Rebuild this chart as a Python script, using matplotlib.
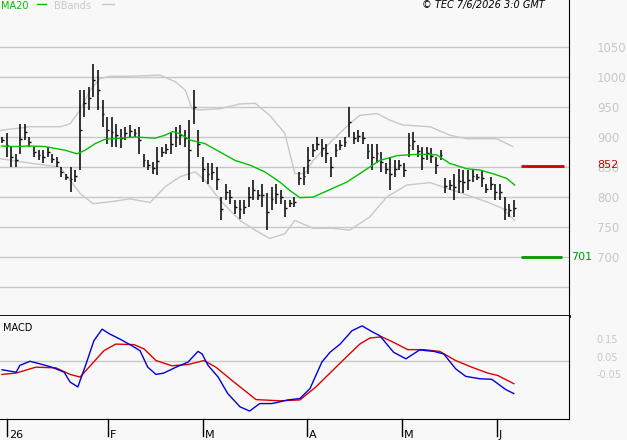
import numpy as np
import matplotlib
matplotlib.use("Agg")
import matplotlib.pyplot as plt

# daily bars (high, low)
highs = [900, 906, 884, 872, 922, 922, 900, 884, 878, 878, 884, 872, 867, 850, 839, 850, 845,
         978, 978, 984, 1022, 1011, 961, 934, 934, 922, 914, 917, 920, 914, 917, 872, 861, 858,
         884, 884, 889, 906, 917, 920, 911, 928, 978, 911, 867, 856, 856, 850, 800, 822, 811,
         795, 795, 795, 817, 828, 811, 822, 806, 817, 822, 811, 795, 795, 800,
         842, 850, 884, 889, 900, 897, 889, 867, 889, 895, 900, 950, 909, 911, 909, 889, 889,
         889, 875, 856, 867, 861, 861, 856, 906, 909, 886, 884, 884, 881, 867, 878, 831, 828,
         839, 847, 845, 845, 845, 839, 845, 822, 834, 822, 822, 800, 789, 795]
lows = [890, 867, 850, 850, 872, 895, 884, 867, 861, 856, 867, 856, 850, 834, 828, 809, 825,
        845, 934, 945, 967, 945, 917, 889, 884, 884, 881, 895, 900, 900, 872, 850, 845, 839,
        836, 867, 872, 872, 884, 886, 884, 828, 922, 867, 825, 822, 828, 811, 761, 795, 789,
        772, 764, 772, 784, 795, 795, 784, 745, 778, 789, 789, 767, 784, 784,
        820, 820, 839, 867, 878, 867, 856, 834, 867, 878, 884, 900, 889, 892, 889, 864, 845,
        856, 842, 839, 811, 834, 845, 834, 867, 878, 867, 845, 861, 856, 839, 861, 806, 811,
        795, 806, 806, 811, 825, 828, 817, 806, 811, 795, 795, 761, 767, 767]

ma_x = [0, 2.8, 6.1, 9.4, 11.6, 13.8, 16.4, 18.2, 20.4, 22.5, 25.8, 29.1, 31.3, 33.5, 35.7, 37.4,
        39, 41.1, 44.4, 47.7, 51, 54.3, 57.5, 60.8, 63, 65.2, 68.1, 75.5, 79.9, 82.7, 86.5,
        90.8, 93.7, 95.2, 98.0, 101.8, 104.6, 107.4, 110.5, 112.2]
ma_y = [885, 884, 885, 884, 881, 878, 872, 878, 889, 896, 898, 900, 899, 898, 903, 909,
        905, 895, 889, 875, 861, 853, 842, 825, 811, 799, 800, 825, 847, 861, 869,
        871, 871, 870, 856, 847, 845, 839, 831, 820]

up_x = [-0.4, 6.1, 12.7, 14.9, 17.1, 19.3, 21.4, 23.6, 28, 34.6, 37.9, 40.1, 41.6, 43.3, 47.7,
        52.1, 55.4, 58.6, 61.9, 64.1, 66.3, 68.1, 72.4, 76.1, 78.3, 82.1, 84.9, 87.7, 93.7,
        98, 101.8, 108.3, 111.8]
up_y = [911, 917, 917, 922, 945, 978, 997, 1001, 1001, 1003, 992, 978, 947, 945, 947,
        955, 956, 936, 906, 839, 839, 861, 895, 922, 936, 939, 928, 920, 917,
        903, 897, 897, 884]
lo_x = [-0.4, 3.9, 9.4, 12.7, 14.9, 17.1, 19.9, 23.6, 28, 32.4, 35.7, 39, 42.3, 44.4, 47.7,
        52.1, 55.4, 58.6, 61.9, 64.1, 68.1, 72.4, 76.1, 80.5, 84.2, 88.6, 93.7, 99.6, 106.1,
        109.6, 112.2]
lo_y = [864, 859, 853, 850, 828, 806, 789, 792, 797, 791, 817, 834, 842, 828, 795,
        761, 745, 731, 739, 761, 748, 748, 745, 767, 800, 820, 824, 809, 792,
        781, 761]

macd_x = [0, 3.1, 3.9, 6.1, 8.3, 10.9, 13.6, 14.9, 16.6, 18.4, 20.1, 21.9, 23.6, 25.8, 28.4,
          30.2, 31.9, 33.7, 35.4, 38.1, 40.7, 42.9, 43.8, 45.1, 47.3, 49.4, 52.1, 54.2, 56.4,
          59.1, 62.6, 65.2, 67.4, 70, 71.8, 74, 76.6, 78.8, 80.9, 82.7, 85.7, 88.4, 91.4, 94.5,
          96.7, 99.3, 101.5, 104.6, 107.2, 110.3, 112]
macd_y = [-0.026, -0.04, -0.001, 0.023, 0.008, -0.011, -0.04, -0.097, -0.125, 0.008, 0.141,
          0.208, 0.18, 0.151, 0.113, 0.084, -0.011, -0.053, -0.045, -0.011, 0.018, 0.08, 0.065,
          -0.001, -0.068, -0.163, -0.24, -0.264, -0.221, -0.221, -0.2, -0.192, -0.135, 0.018,
          0.075, 0.122, 0.199, 0.227, 0.195, 0.17, 0.075, 0.037, 0.088, 0.08, 0.065, -0.021,
          -0.064, -0.078, -0.081, -0.141, -0.163]
sig_x = [0, 3.1, 7.4, 11.8, 14.9, 17.1, 19.7, 22.3, 24.9, 28.9, 31.1, 33.7, 37.2, 40.7, 44.2,
         46.8, 51.2, 55.6, 60.8, 65.2, 68.7, 73.1, 75.7, 78.3, 80.5, 83.1, 85.7, 88.8, 92.3,
         95.8, 99.3, 102.8, 106.3, 108.5, 112]
sig_y = [-0.053, -0.045, -0.011, -0.015, -0.053, -0.068, 0.008, 0.084, 0.122, 0.119, 0.094,
         0.027, -0.003, 0.004, 0.027, -0.011, -0.106, -0.198, -0.205, -0.2, -0.125, -0.011,
         0.056, 0.122, 0.157, 0.164, 0.132, 0.09, 0.09, 0.08, 0.027, -0.011, -0.045, -0.059,
         -0.106]

month_pos = [1.1, 23.2, 44, 66.7, 87.5, 108.3]
month_lab = ["26", "F", "M", "A", "M", "J"]
price_ticks = [700, 750, 800, 850, 900, 950, 1000, 1050]
macd_ticks = [0.15, 0.05, -0.05]
resist, support = 852, 701

bg = "#f8f8f8"
grid = "#c8c8c8"
lbl = "#c8c8c8"
xlim = (-0.44, 124.1)

fig = plt.figure(figsize=(6.27, 4.40), dpi=100, facecolor=bg)
ax = fig.add_axes([0, 1 - 316 / 440, 569 / 627, 316 / 440], facecolor=bg)
ax2 = fig.add_axes([0, 1 - 419 / 440, 569 / 627, 103 / 440], facecolor=bg)

for a in (ax, ax2):
    a.set_xlim(*xlim)
    for s in a.spines.values():
        s.set_visible(False)
    a.spines["right"].set_visible(True)
    a.spines["right"].set_color("black")
    a.set_xticks([])
    a.tick_params(axis="y", length=0, labelcolor=lbl, labelsize=8.5, pad=20)
    a.yaxis.tick_right()

ax.set_ylim(602, 1128)
for p in [650] + price_ticks:
    ax.axhline(p, color=grid, lw=1, zorder=0)
ax.set_yticks(price_ticks)
ax.set_yticklabels([str(p) for p in price_ticks])
ax.spines["bottom"].set_visible(True)
ax.spines["bottom"].set_linewidth(2)

x = np.arange(len(highs))
mid = (np.array(highs) + np.array(lows)) / 2
ax.vlines(x, lows, highs, color="black", lw=1.1, zorder=3)
ax.hlines(mid, x, x + 0.4, color="black", lw=1, zorder=3)
ax.plot(up_x, up_y, color="#c8c8c8", lw=1, zorder=2)
ax.plot(lo_x, lo_y, color="#c8c8c8", lw=1, zorder=2)
ax.plot(ma_x, ma_y, color="#00c000", lw=1, zorder=4)

ax.hlines(resist, 113.5, 122.9, color="#cc0000", lw=2)
ax.hlines(support, 113.5, 122.5, color="#009900", lw=2)
ax.text(1.05, resist + 2, str(resist), transform=ax.get_yaxis_transform(), color="#cc0000",
        fontsize=8, va="center", zorder=5)
ax.text(1.003, support, str(support), transform=ax.get_yaxis_transform(), color="#009900",
        fontsize=8, va="center")

ax.text(0.001, 0.997, "MA20", transform=ax.transAxes, color="#00c000", fontsize=7, va="top")
ax.plot([0.065, 0.08], [0.987, 0.987], transform=ax.transAxes, color="#00c000", lw=1)
ax.text(0.095, 0.997, "BBands", transform=ax.transAxes, color="#c8c8c8", fontsize=7, va="top")
ax.plot([0.18, 0.2], [0.987, 0.987], transform=ax.transAxes, color="#c8c8c8", lw=1)
ax.text(0.673, 1.0, "© TEC 7/6/2026 3:0 GMT", transform=fig.transFigure, fontsize=7,
        style="italic", va="top")

ax2.set_ylim(-0.31, 0.284)
ax2.axhline(0.025, color=grid, lw=1, zorder=0)
ax2.set_yticks(macd_ticks)
ax2.set_yticklabels(["0.15", "0.05", "-0.05"], fontsize=7)
ax2.spines["bottom"].set_visible(True)
ax2.spines["bottom"].set_color("black")
ax2.plot(sig_x, sig_y, color="#dd0000", lw=1)
ax2.plot(macd_x, macd_y, color="#0000dd", lw=1)
ax2.text(0.005, 0.93, "MACD", transform=ax2.transAxes, fontsize=7, va="top")

for pos, lab in zip(month_pos, month_lab):
    ax2.plot([pos, pos], [-0.31, -0.41], color="black", lw=1, clip_on=False)
    ax2.text(pos + 0.4, -0.40, lab, fontsize=8, va="center", ha="left")

fig.savefig("out.png", dpi=100, facecolor=bg)
